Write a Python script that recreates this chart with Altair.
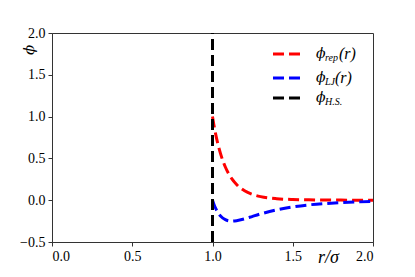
import altair as alt
import pandas as pd

# ---- data ----
r = [1.0, 1.01, 1.02, 1.03, 1.04, 1.05, 1.08, 1.1, 1.12, 1.15, 1.2, 1.25, 1.3,
     1.4, 1.5, 1.6, 1.7, 1.8, 1.9, 2.0]
phi_rep = [1.0, 0.887, 0.789, 0.701, 0.625, 0.557, 0.397, 0.319, 0.257, 0.187,
           0.112, 0.069, 0.043, 0.018, 0.008, 0.004, 0.002, 0.001, 0.0005, 0.0002]
phi_lj = [0.0, -0.055, -0.099, -0.136, -0.166, -0.189, -0.233, -0.246, -0.250,
          -0.245, -0.223, -0.193, -0.164, -0.115, -0.080, -0.056, -0.040,
          -0.029, -0.021, -0.015]
hs_r = [1.0, 1.0]
hs_phi = [-0.5, 2.0]
x_ticks = [0.0, 0.5, 1.0, 1.5, 2.0]
y_ticks = [-0.5, 0.0, 0.5, 1.0, 1.5, 2.0]

legend_main = ["\u03d5", "\u03d5", "\u03d5"]
legend_sub = ["rep", "LJ", "H.S."]
legend_tail = ["(r)", "(r)", ""]
legend_colors = ["#ff0000", "#0000ff", "#000000"]

df_rep = pd.DataFrame({"r": r, "phi": phi_rep})
df_lj = pd.DataFrame({"r": r, "phi": phi_lj})
df_hs = pd.DataFrame({"r": hs_r, "phi": hs_phi})

FONT = "'Liberation Serif', serif"
PHIFONT = "'DejaVu Serif', serif"
DASH = [11, 5]

xs = alt.Scale(domain=[0, 2], nice=False, zero=False)
ys = alt.Scale(domain=[-0.5, 2.0], nice=False, zero=False)

x_enc = alt.X("r:Q", scale=xs, axis=alt.Axis(
    values=x_ticks, format=".1f", title="r/\u03c3", titleX=276, titleY=15,
    titleBaseline="middle", titleFontSize=18, titleFontStyle="italic",
    titleFontWeight="normal", titleFont=FONT, titleColor="black"))
y_enc = alt.Y("phi:Q", scale=ys, axis=alt.Axis(
    values=y_ticks, format=".1f", title=None))


def curve(df, color):
    return alt.Chart(df).mark_line(
        color=color, strokeWidth=3, strokeDash=DASH, interpolate="monotone"
    ).encode(x=x_enc, y=y_enc)


layers = [curve(df_rep, "#ff0000"), curve(df_lj, "#0000ff"),
          alt.Chart(df_hs).mark_line(color="black", strokeWidth=3,
                                     strokeDash=DASH).encode(x=x_enc, y=y_enc)]

one = alt.Data(values=[{"a": 1}])

# y-axis title (rotated phi at the top of the axis)
layers.append(alt.Chart(one).mark_text(
    text="\u03d5", font=PHIFONT, fontSize=15, fontStyle="italic", angle=270,
    align="center", baseline="middle", color="black").encode(
    x=alt.value(-23), y=alt.value(17)))

leg_y = [21, 45, 65]
for i in range(3):
    yy = leg_y[i]
    layers.append(alt.Chart(one).mark_rule(
        color=legend_colors[i], strokeWidth=3, strokeDash=DASH).encode(
        x=alt.value(221), x2=alt.value(248), y=alt.value(yy)))
    layers.append(alt.Chart(one).mark_text(
        text=legend_main[i], font=PHIFONT, fontSize=14, fontStyle="italic",
        align="left", baseline="middle", color="black").encode(
        x=alt.value(264), y=alt.value(yy)))
    layers.append(alt.Chart(one).mark_text(
        text=legend_sub[i], font=FONT, fontSize=10, fontStyle="italic",
        align="left", baseline="middle", color="black").encode(
        x=alt.value(273), y=alt.value(yy + 4)))
    if legend_tail[i]:
        layers.append(alt.Chart(one).mark_text(
            text=legend_tail[i], font=FONT, fontSize=16, fontStyle="italic",
            align="left", baseline="middle", color="black").encode(
            x=alt.value(273 + (14 if i == 0 else 10)), y=alt.value(yy)))

chart = alt.layer(*layers).properties(
    width=321, height=209,
    padding={"left": 44, "top": 25, "right": 34, "bottom": 27},
    autosize=alt.AutoSizeParams(type="none"),
).configure_view(
    stroke="#333333", strokeWidth=1
).configure_axis(
    grid=False, domainColor="#333333", tickColor="#333333", tickSize=4,
    labelFont=FONT, labelFontSize=14, labelColor="black", labelPadding=3,
    domainWidth=1, tickWidth=1
)

chart.save("out.html", embed_options={"renderer": "svg", "actions": False})
